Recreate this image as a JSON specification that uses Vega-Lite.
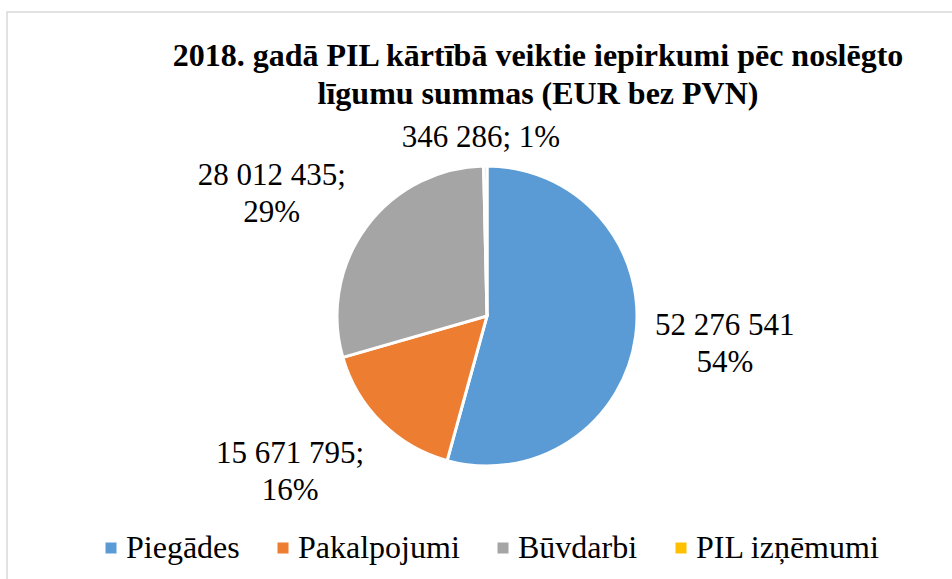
{
  "$schema": "https://vega.github.io/schema/vega-lite/v6.json",
  "width": 960,
  "height": 608,
  "autosize": {"type": "none"},
  "padding": {"left": 7, "top": 12, "right": 0, "bottom": 0},
  "background": "white",
  "view": {"stroke": "#d9d9d9", "strokeWidth": 1.5, "fill": "white"},
  "config": {
    "font": "Liberation Serif"
  },
  "title": {
    "text": ["2018. gadā PIL kārtībā veiktie iepirkumi pēc noslēgto", "līgumu summas (EUR bez PVN)"],
    "font": "Liberation Serif",
    "fontSize": 32,
    "fontWeight": "bold",
    "color": "black",
    "lineHeight": 38,
    "anchor": "middle",
    "dx": 51,
    "dy": 103
  },
  "data": {
    "values": [
      {"category": "Piegādes", "value": 52276541, "rank": 1, "label": "52 276 541\n54%"},
      {"category": "Pakalpojumi", "value": 15671795, "rank": 2, "label": "15 671 795;\n16%"},
      {"category": "Būvdarbi", "value": 28012435, "rank": 3, "label": "28 012 435;\n29%"},
      {"category": "PIL izņēmumi", "value": 346286, "rank": 4, "label": "346 286; 1%"}
    ]
  },
  "encoding": {
    "theta": {"field": "value", "type": "quantitative", "stack": true},
    "order": {"field": "rank", "type": "quantitative"}
  },
  "layer": [
    {
      "mark": {"type": "arc", "outerRadius": 150, "stroke": "white", "strokeWidth": 3},
      "encoding": {
        "color": {
          "field": "category",
          "type": "nominal",
          "sort": ["Piegādes", "Pakalpojumi", "Būvdarbi", "PIL izņēmumi"],
          "scale": {
            "domain": ["Piegādes", "Pakalpojumi", "Būvdarbi", "PIL izņēmumi"],
            "range": ["#5B9BD5", "#ED7D31", "#A5A5A5", "#FFC000"]
          },
          "legend": {
            "title": null,
            "orient": "none",
            "direction": "horizontal",
            "legendX": 88,
            "legendY": 520,
            "padding": 0,
            "symbolType": "square",
            "symbolSize": 121,
            "symbolStrokeWidth": 0,
            "labelFont": "Liberation Serif",
            "labelFontSize": 32,
            "labelColor": "black",
            "labelOffset": -1,
            "columnPadding": 27,
            "labelLimit": 400
          }
        }
      }
    },
    {
      "mark": {"type": "text", "radius": 240, "font": "Liberation Serif", "fontSize": 31, "color": "black", "lineBreak": "\n", "lineHeight": 37, "dy": -22, "align": "center", "baseline": "middle"},
      "encoding": {
        "text": {"condition": {"test": "datum.category === 'Piegādes'", "field": "label"}, "value": ""}
      }
    },
    {
      "mark": {"type": "text", "radius": 240, "font": "Liberation Serif", "fontSize": 31, "color": "black", "lineBreak": "\n", "lineHeight": 37, "dx": -28, "dy": -33, "align": "center", "baseline": "middle"},
      "encoding": {
        "text": {"condition": {"test": "datum.category === 'Pakalpojumi'", "field": "label"}, "value": ""}
      }
    },
    {
      "mark": {"type": "text", "radius": 240, "font": "Liberation Serif", "fontSize": 31, "color": "black", "lineBreak": "\n", "lineHeight": 37, "dx": -22, "dy": 2, "align": "center", "baseline": "middle"},
      "encoding": {
        "text": {"condition": {"test": "datum.category === 'Būvdarbi'", "field": "label"}, "value": ""}
      }
    },
    {
      "mark": {"type": "text", "radius": 180, "font": "Liberation Serif", "fontSize": 31, "color": "black", "lineBreak": "\n", "lineHeight": 37, "dx": -4, "dy": 2, "align": "center", "baseline": "middle"},
      "encoding": {
        "text": {"condition": {"test": "datum.category === 'PIL izņēmumi'", "field": "label"}, "value": ""}
      }
    }
  ]
}
